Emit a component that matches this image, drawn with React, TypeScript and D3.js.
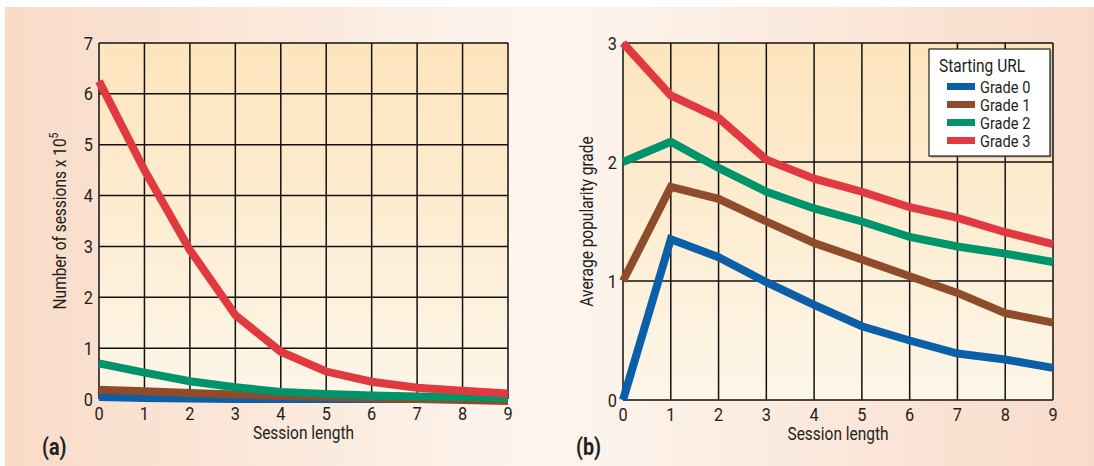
import React from "react";
import * as d3 from "d3";

const sessionLength = [0, 1, 2, 3, 4, 5, 6, 7, 8, 9];
const grades = ["Grade 0", "Grade 1", "Grade 2", "Grade 3"];
const gradeColors = ["#0a5fa8", "#8f4c2b", "#00946a", "#e0393f"];

// panel (a): number of sessions x 10^5
const sessionsG0 = [0.04, 0.02, 0.01, 0.0, 0.0, 0.0, 0.0, 0.0, 0.0, -0.02];
const sessionsG1 = [0.18, 0.15, 0.12, 0.09, 0.06, 0.04, 0.02, 0.0, -0.02, -0.04];
const sessionsG2 = [0.7, 0.52, 0.35, 0.23, 0.14, 0.1, 0.07, 0.05, 0.04, 0.02];
const sessionsG3 = [6.25, 4.5, 2.93, 1.65, 0.93, 0.54, 0.34, 0.22, 0.16, 0.11];

// panel (b): average popularity grade
const avgG0 = [0.0, 1.35, 1.2, 0.99, 0.8, 0.62, 0.5, 0.39, 0.34, 0.27];
const avgG1 = [1.0, 1.79, 1.69, 1.5, 1.32, 1.18, 1.04, 0.9, 0.73, 0.65];
const avgG2 = [2.0, 2.17, 1.95, 1.75, 1.61, 1.5, 1.37, 1.29, 1.23, 1.16];
const avgG3 = [3.0, 2.56, 2.37, 2.02, 1.86, 1.75, 1.62, 1.53, 1.41, 1.31];

const leftTicks = [0, 1, 2, 3, 4, 5, 6, 7];
const rightTicks = [0, 1, 2, 3];

const FONT = "Roboto, 'Liberation Sans', sans-serif";
const SQUEEZE = 0.86; // the original uses a condensed face

type TxtProps = {
  x: number;
  y: number;
  size: number;
  anchor?: "start" | "middle" | "end";
  bold?: boolean;
  rotate?: number;
  children: React.ReactNode;
};

const Txt = ({ x, y, size, anchor = "start", bold, rotate = 0, children }: TxtProps) => (
  <text
    transform={`translate(${x},${y}) rotate(${rotate}) scale(${SQUEEZE},1)`}
    textAnchor={anchor}
    fontSize={size}
    fontWeight={bold ? "bold" : "normal"}
    fill="#231f20"
    fontFamily={FONT}
  >
    {children}
  </text>
);

type PanelProps = {
  x0: number;
  x1: number;
  y0: number;
  y1: number;
  yMax: number;
  yTicks: number[];
  series: number[][];
  yTitle: React.ReactNode;
  yTitleX: number;
  tag: string;
  tagX: number;
  gid: string;
};

const Panel = ({ x0, x1, y0, y1, yMax, yTicks, series, yTitle, yTitleX, tag, tagX, gid }: PanelProps) => {
  const x = d3.scaleLinear().domain([0, 9]).range([x0, x1]);
  const y = d3.scaleLinear().domain([0, yMax]).range([y1, y0]);
  const line = d3
    .line<number>()
    .x((_, i) => x(sessionLength[i]))
    .y((d) => y(d));
  const midX = (x0 + x1) / 2;
  return (
    <g>
      <defs>
        <linearGradient id={gid} x1="0" y1="0" x2="0" y2="1">
          <stop offset="0" stopColor="#fde4bd" />
          <stop offset="1" stopColor="#fdf6e8" />
        </linearGradient>
      </defs>
      <rect x={x0} y={y0} width={x1 - x0} height={y1 - y0} fill={`url(#${gid})`} />
      {sessionLength.map((s) => (
        <line key={"v" + s} x1={x(s)} x2={x(s)} y1={y0} y2={y1} stroke="#111" strokeWidth={1.5} />
      ))}
      {yTicks.map((t) => (
        <line key={"h" + t} x1={x0} x2={x1} y1={y(t)} y2={y(t)} stroke="#111" strokeWidth={1.5} />
      ))}
      {series.map((s, i) => (
        <path key={i} d={line(s) || ""} fill="none" stroke={gradeColors[i]} strokeWidth={8} strokeLinejoin="miter" />
      ))}
      {yTicks.map((t) => (
        <Txt key={"yl" + t} x={x0 - 6} y={y(t) + 6.5} size={19} anchor="end">
          {t}
        </Txt>
      ))}
      {sessionLength.map((s) => (
        <Txt key={"xl" + s} x={x(s)} y={y1 + 21} size={19} anchor="middle">
          {s}
        </Txt>
      ))}
      <Txt x={midX} y={y1 + 40} size={18} anchor="middle">
        Session length
      </Txt>
      <Txt x={yTitleX} y={(y0 + y1) / 2} size={18} anchor="middle" rotate={-90}>
        {yTitle}
      </Txt>
      <Txt x={tagX} y={455} size={23} bold>
        {tag}
      </Txt>
    </g>
  );
};

const Legend = () => {
  const lx = 929;
  const ly = 49;
  return (
    <g>
      <rect x={lx + 1.5} y={ly + 1.5} width={121} height={107} fill="#555" opacity={0.5} />
      <rect x={lx} y={ly} width={121} height={107} fill="#fff" stroke="#231f20" strokeWidth={1.2} />
      <Txt x={lx + 10} y={ly + 23} size={18}>
        Starting URL
      </Txt>
      {grades.map((g, i) => (
        <g key={g}>
          <rect x={lx + 18} y={ly + 34 + i * 18} width={28} height={7} fill={gradeColors[i]} />
          <Txt x={lx + 51} y={ly + 43.5 + i * 18} size={17}>
            {g}
          </Txt>
        </g>
      ))}
    </g>
  );
};

export default function App() {
  return (
    <div style={{ position: "absolute", left: 0, top: 0 }}>
      <svg width={1094} height={466} style={{ display: "block" }}>
        <defs>
          <linearGradient id="bg" x1="0" y1="0" x2="1" y2="0">
            <stop offset="0" stopColor="#f9dbc7" />
            <stop offset="0.5" stopColor="#fdf6ef" />
            <stop offset="1" stopColor="#f9dbc9" />
          </linearGradient>
        </defs>
        <rect x={0} y={0} width={1094} height={466} fill="#fff" />
        <rect x={5} y={7} width={1089} height={459} fill="url(#bg)" />
        <Panel
          x0={99}
          x1={508}
          y0={43}
          y1={399}
          yMax={7}
          yTicks={leftTicks}
          series={[sessionsG0, sessionsG1, sessionsG2, sessionsG3]}
          yTitle={
            <>
              Number of sessions x 10
              <tspan fontSize={12} dy={-8}>
                5
              </tspan>
            </>
          }
          yTitleX={66}
          tag="(a)"
          tagX={42}
          gid="pa"
        />
        <Panel
          x0={623}
          x1={1053}
          y0={43}
          y1={400}
          yMax={3}
          yTicks={rightTicks}
          series={[avgG0, avgG1, avgG2, avgG3]}
          yTitle="Average popularity grade"
          yTitleX={593}
          tag="(b)"
          tagX={576}
          gid="pb"
        />
        <Legend />
      </svg>
    </div>
  );
}
